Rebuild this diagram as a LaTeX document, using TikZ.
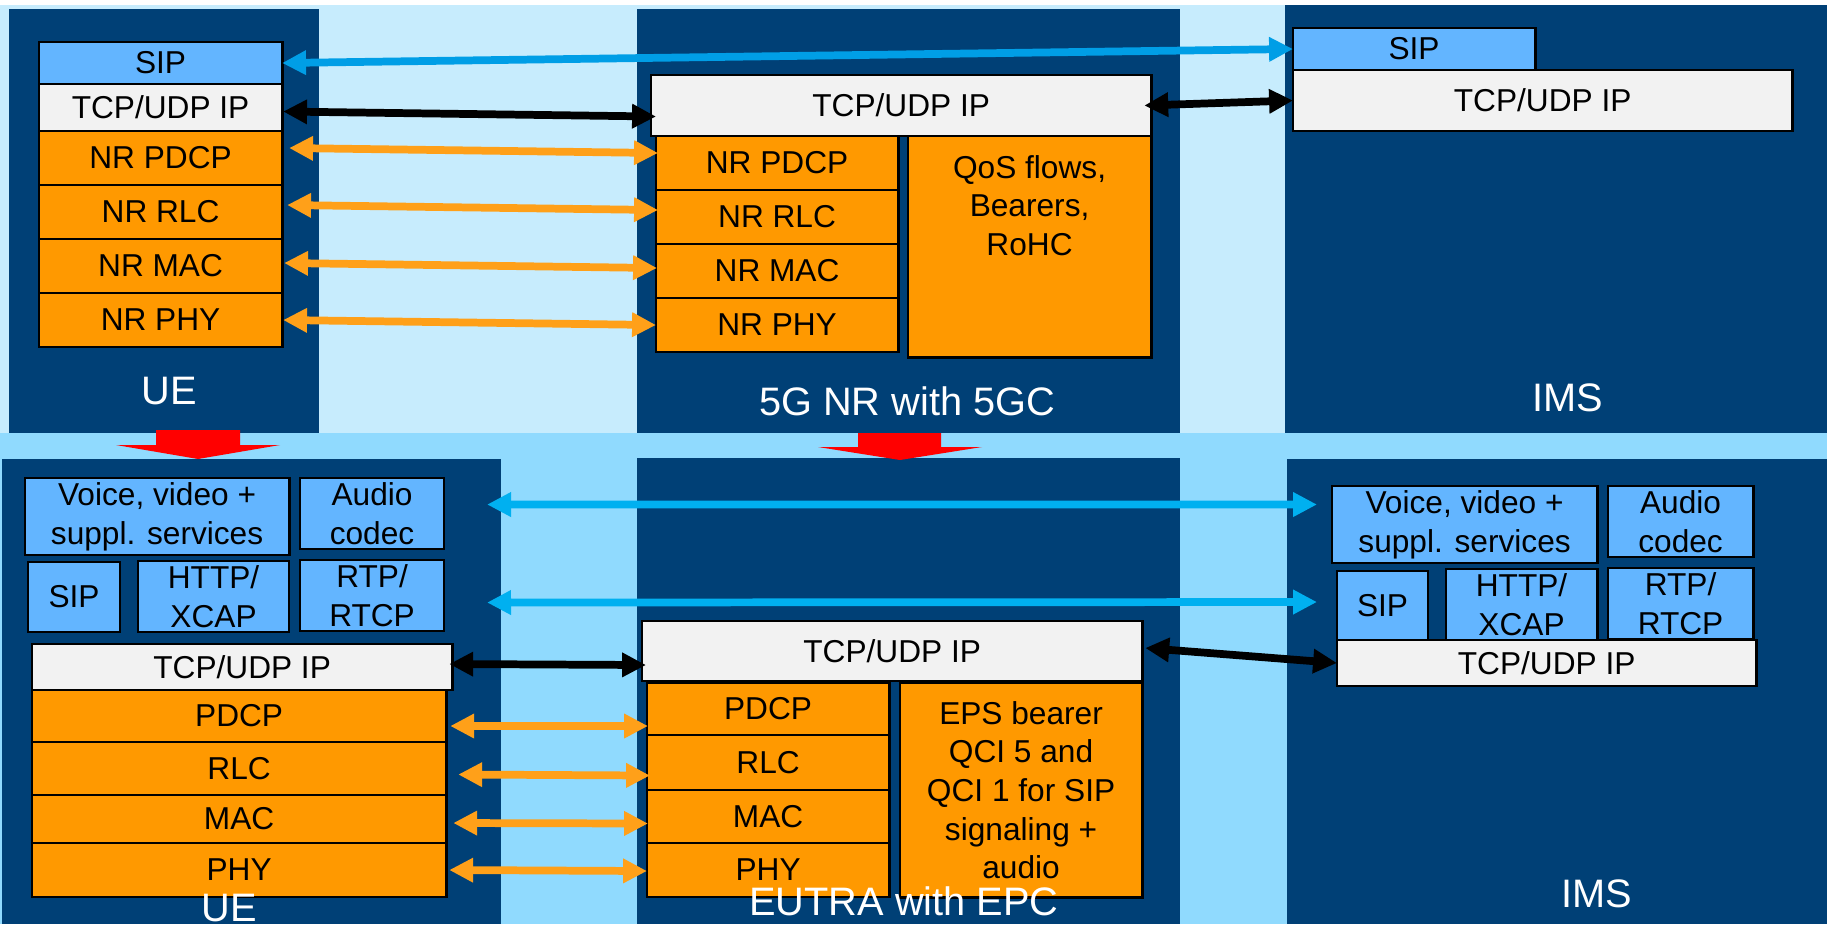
\documentclass[tikz,border=0pt]{standalone}
\usepackage{fontspec}
\setmainfont{Liberation Sans}
\usetikzlibrary{arrows.meta,calc}
\definecolor{navy}{RGB}{0,64,118}
\definecolor{topsky}{RGB}{199,236,253}
\definecolor{lowsky}{RGB}{144,218,254}
\definecolor{stackorange}{RGB}{255,153,0}
\definecolor{sipblue}{RGB}{99,181,255}
\definecolor{ipgrey}{RGB}{242,242,242}
\definecolor{sigblue}{RGB}{0,158,230}
\definecolor{appblue}{RGB}{0,176,240}
\definecolor{linkorange}{RGB}{255,160,25}
\begin{document}
\begin{tikzpicture}[x=0.01cm, y=-0.01cm,
    layer/.style={draw=black, line width=0.8pt, inner sep=0pt, outer sep=0pt, anchor=north west, align=center, font=\fontsize{9}{11}\selectfont},
    radio/.style={layer, fill=stackorange},
    sipl/.style={layer, fill=sipblue},
    ipl/.style={layer, fill=ipgrey},
    panel/.style={fill=navy},
    site/.style={text=white, anchor=base, inner sep=0pt, font=\fontsize{11.3}{13}\selectfont},
    link/.style={line width=2.2pt, {Triangle[length=6.8pt,width=6.6pt]}-{Triangle[length=6.8pt,width=6.6pt]}}]
     \useasboundingbox (0,0) rectangle (1827,924);
     \fill[white] (0,0) rectangle (1827,5);
     \fill[topsky] (0,5) rectangle (1827,433);
     \fill[lowsky] (0,433) rectangle (1827,924);
     \fill[panel] (9,9) rectangle (319,433);
     \fill[panel] (637,9) rectangle (1180,433);
     \fill[panel] (1285,5) rectangle (1827,433);
     \fill[panel] (2,459) rectangle (501,924);
     \fill[panel] (637,458) rectangle (1180,924);
     \fill[panel] (1287,459) rectangle (1827,924);
     \fill[red] (156,430) -- (240,430) -- (240,445) -- (280,445) -- (198,459) -- (116,445) -- (156,445) -- cycle;
     \fill[red] (858,433) -- (941,433) -- (941,447) -- (982,447) -- (900,460) -- (818,447) -- (858,447) -- cycle;
     % 5G NR with 5GC
     \node[sipl, minimum width=2.43cm, minimum height=0.42cm] (usip) at (39,42) {SIP};
     \node[ipl, minimum width=2.43cm, minimum height=0.47cm] (utcp) at (39,84) {TCP/UDP IP};
     \node[radio, minimum width=2.43cm, minimum height=0.54cm] (upcp) at (39,131) {NR PDCP};
     \node[radio, minimum width=2.43cm, minimum height=0.54cm] (urlc) at (39,185) {NR RLC};
     \node[radio, minimum width=2.43cm, minimum height=0.54cm] (umac) at (39,239) {NR MAC};
     \node[radio, minimum width=2.43cm, minimum height=0.54cm] (uphy) at (39,293) {NR PHY};
     \node[ipl, minimum width=5cm, minimum height=0.61cm] (ntcp) at (651,75) {TCP/UDP IP};
     \node[radio, minimum width=2.42cm, minimum height=0.54cm] (npcp) at (656,136) {NR PDCP};
     \node[radio, minimum width=2.42cm, minimum height=0.54cm] (nrlc) at (656,190) {NR RLC};
     \node[radio, minimum width=2.42cm, minimum height=0.54cm] (nmac) at (656,244) {NR MAC};
     \node[radio, minimum width=2.42cm, minimum height=0.54cm] (nphy) at (656,298) {NR PHY};
     \node[radio, minimum width=2.43cm, minimum height=2.21cm,
           label={[align=center, font=\fontsize{9}{11}\selectfont, anchor=north, yshift=-1.9pt]north:QoS flows,\\Bearers,\\RoHC}] (nqos) at (908,136) {};
     \node[sipl, minimum width=2.42cm, minimum height=0.42cm] (isip) at (1293,28) {SIP};
     \node[ipl, minimum width=4.99cm, minimum height=0.61cm] (itcp) at (1293,70) {TCP/UDP IP};
     \node[site] (uelabel) at (169,404) {UE};
     \node[site] (nrlabel) at (907,415) {5G NR with 5GC};
     \node[site] (imslabel) at (1568,411) {IMS};
     \draw[link, sigblue] (usip.east) -- (isip.west);
     \draw[link, black] ($(utcp.east)+(1,4)$) -- ($(ntcp.west)+(5,11)$);
     \draw[link, black] ($(ntcp.east)+(-7,0)$) -- (itcp.west);
     \draw[link, linkorange] ($(upcp.east)+(7,-10)$) -- ($(npcp.west)+(2,-10)$);
     \draw[link, linkorange] ($(urlc.east)+(5,-7)$) -- ($(nrlc.west)+(2,-7)$);
     \draw[link, linkorange] ($(umac.east)+(2,-3)$) -- ($(nmac.west)+(1,-3)$);
     \draw[link, linkorange] ($(uphy.east)+(1,0)$) -- (nphy.west);
     % EUTRA with EPC
     \node[sipl, minimum width=2.64cm, minimum height=0.77cm] (lvoice) at (25,478) {Voice, video +\\suppl. services};
     \node[sipl, minimum width=1.44cm, minimum height=0.71cm] (lcodec) at (300,478) {Audio\\codec};
     \node[sipl, minimum width=0.92cm, minimum height=0.70cm] (lsip) at (28,562) {SIP};
     \node[sipl, minimum width=1.51cm, minimum height=0.71cm] (lhttp) at (138,561) {HTTP/\\XCAP};
     \node[sipl, minimum width=1.44cm, minimum height=0.71cm] (lrtp) at (300,560) {RTP/\\RTCP};
     \node[ipl, minimum width=4.20cm, minimum height=0.46cm] (ltcp) at (32,644) {TCP/UDP IP};
     \node[radio, minimum width=4.14cm, minimum height=0.52cm] (lpcp) at (32,690) {PDCP};
     \node[radio, minimum width=4.14cm, minimum height=0.53cm] (lrlc) at (32,742) {RLC};
     \node[radio, minimum width=4.14cm, minimum height=0.48cm] (lmac) at (32,795) {MAC};
     \node[radio, minimum width=4.14cm, minimum height=0.54cm] (lphy) at (32,843) {PHY};
     \node[ipl, minimum width=5cm, minimum height=0.60cm] (etcp) at (642,621) {TCP/UDP IP};
     \node[radio, minimum width=2.42cm, minimum height=0.52cm] (epcp) at (647,683) {PDCP};
     \node[radio, minimum width=2.42cm, minimum height=0.55cm] (erlc) at (647,735) {RLC};
     \node[radio, minimum width=2.42cm, minimum height=0.53cm] (emac) at (647,790) {MAC};
     \node[radio, minimum width=2.42cm, minimum height=0.54cm] (ephy) at (647,843) {PHY};
     \node[radio, minimum width=2.42cm, minimum height=2.14cm] (eeps) at (900,683) {EPS bearer\\QCI 5 and\\QCI 1 for SIP\\signaling +\\audio};
     \node[sipl, minimum width=2.65cm, minimum height=0.77cm] (ivoice) at (1332,486) {Voice, video +\\suppl. services};
     \node[sipl, minimum width=1.45cm, minimum height=0.71cm] (icodec) at (1608,486) {Audio\\codec};
     \node[sipl, minimum width=0.91cm, minimum height=0.70cm] (isipb) at (1337,571) {SIP};
     \node[sipl, minimum width=1.51cm, minimum height=0.72cm] (ihttp) at (1446,569) {HTTP/\\XCAP};
     \node[sipl, minimum width=1.45cm, minimum height=0.71cm] (irtp) at (1608,568) {RTP/\\RTCP};
     \node[ipl, minimum width=4.19cm, minimum height=0.46cm] (itcpb) at (1337,640) {TCP/UDP IP};
     \node[site] (uelow) at (229,921) {UE};
     \node[site] (eutralabel) at (904,915) {EUTRA with EPC};
     \node[site] (imslow) at (1597,907) {IMS};
     \draw[link, appblue] ($(lcodec.east)+(43,-9)$) -- ($(ivoice.west)+(-15,-20)$);
     \draw[link, appblue] ($(lrtp.east)+(43,7)$) -- ($(isipb.west)+(-20,-4)$);
     \draw[link, black] ($(ltcp.east)+(-3,-3)$) -- ($(etcp.west)+(4,14)$);
     \draw[link, black] ($(etcp.east)+(3,-3)$) -- (itcpb.west);
     \draw[link, linkorange] ($(lpcp.east)+(4,10)$) -- ($(epcp.west)+(1,17)$);
     \draw[link, linkorange] ($(lrlc.east)+(12,6)$) -- ($(erlc.west)+(3,13)$);
     \draw[link, linkorange] ($(lmac.east)+(7,4)$) -- ($(emac.west)+(1,7)$);
     \draw[link, linkorange] ($(lphy.east)+(3,0)$) -- ($(ephy.west)+(0,1)$);
\end{tikzpicture}
\end{document}
